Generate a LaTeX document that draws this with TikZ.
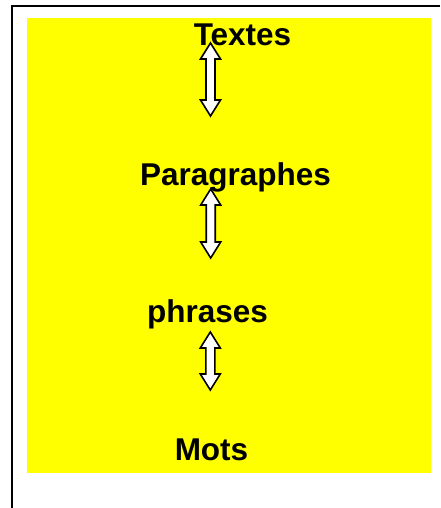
\documentclass[tikz,border=0pt]{standalone}
\usepackage{fontspec}
\setmainfont{Liberation Sans}
\usetikzlibrary{calc}
\definecolor{bgyellow}{RGB}{255,255,0}

\tikzset{
	level/.style={anchor=base, inner sep=0pt, font=\bfseries\fontsize{31.5}{31.5}\selectfont},
	arrowbox/.style={draw=black, fill=white, line width=1.6pt, line join=miter},
	pics/bidir/.style={code={
		\draw[arrowbox] (0,0) -- (10,16) -- (4.5,16) -- (4.5,#1-16) -- (10,#1-16) -- (0,#1)
			-- (-10,#1-16) -- (-4.5,#1-16) -- (-4.5,16) -- (-10,16) -- cycle;
	}}
}

\begin{document}
\begin{tikzpicture}[x=1pt, y=-1pt]
	\useasboundingbox (0,0) rectangle (440,508);
	
	%frame and background
	\draw[line width=2pt, black] (440,6.5) -- (11.5,6.5) -- (11.5,508);
	\fill[bgyellow] (27,18) rectangle (431,473);
	
	%levels
	\node[level] (textes) at (242.5,46) {Textes};
	\node[level] (paragraphes) at (235.5,185) {Paragraphes};
	\node[level] (phrases) at (207.5,322) {phrases};
	\node[level] (mots) at (211.5,460) {Mots};
	
	%arrows
	\coordinate (a1) at (210.5,43);
	\coordinate (a2) at (210.7,189);
	\coordinate (a3) at (210.3,332);
	\pic at (a1) {bidir=73};
	\pic at (a2) {bidir=69};
	\pic at (a3) {bidir=58};
\end{tikzpicture}
\end{document}
